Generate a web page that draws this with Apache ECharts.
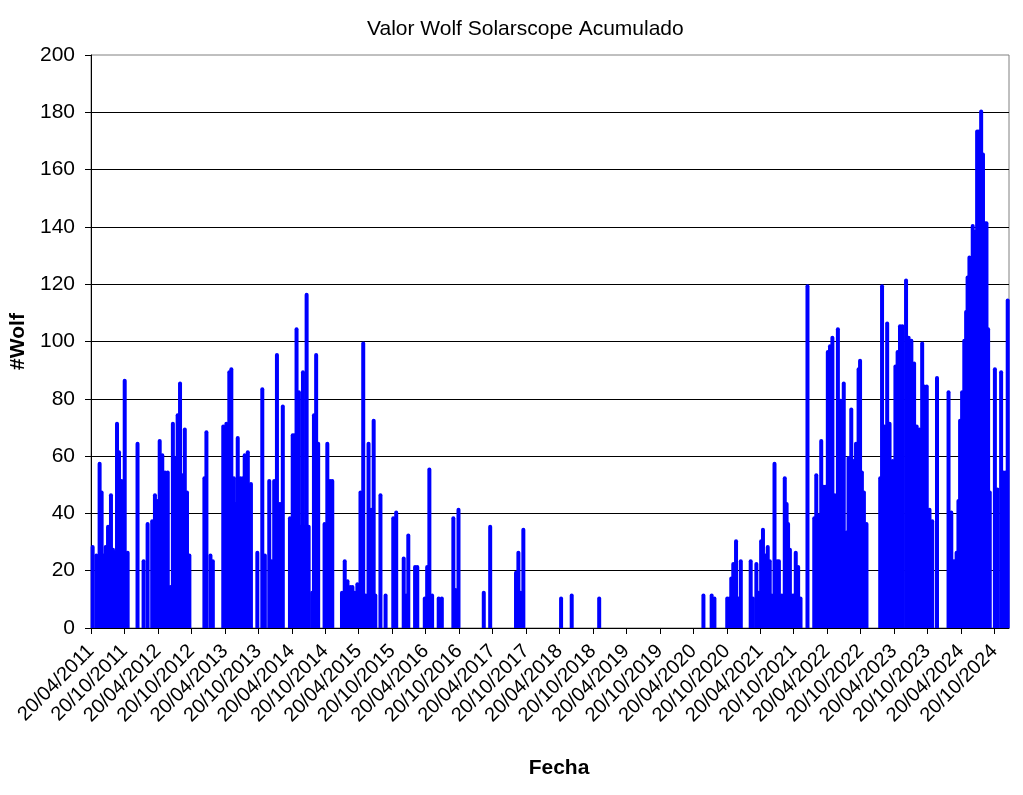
<!DOCTYPE html>
<html>
<head>
<meta charset="utf-8">
<title>Valor Wolf Solarscope Acumulado</title>
<script src="https://cdn.jsdelivr.net/npm/echarts@6.0.0/dist/echarts.min.js"></script>
<style>
  html, body { margin: 0; padding: 0; background: #fff; }
  #chart { width: 1023px; height: 795px; }
</style>
</head>
<body>
<div id="chart"></div>
<script>
const obsDates = [
  '2011-04-29','2011-05-19','2011-06-06','2011-06-17','2011-06-28','2011-07-09','2011-07-22','2011-08-07',
  '2011-08-18','2011-08-29','2011-09-09','2011-09-20','2011-10-04','2011-10-21','2011-11-06',
  '2011-12-30','2012-02-01','2012-02-23',
  '2012-03-19','2012-04-03','2012-04-16','2012-04-29','2012-05-13','2012-05-28','2012-06-12','2012-06-26',
  '2012-07-10','2012-07-23','2012-08-05','2012-08-18','2012-08-31','2012-09-13','2012-09-25','2012-10-08',
  '2012-12-29','2013-01-09','2013-01-31','2013-02-13',
  '2013-04-11','2013-04-28','2013-05-14','2013-05-25','2013-06-08','2013-06-18','2013-06-29','2013-07-13',
  '2013-07-27','2013-08-06','2013-08-23','2013-09-09',
  '2013-10-14','2013-11-10','2013-11-24',
  '2013-12-18','2013-12-31','2014-01-14','2014-01-29','2014-02-13','2014-02-23','2014-03-02',
  '2014-04-10','2014-04-25','2014-05-05','2014-05-16','2014-05-29','2014-06-10','2014-06-20','2014-06-29',
  '2014-07-10','2014-07-21',
  '2014-08-09','2014-08-19','2014-08-31','2014-09-11',
  '2014-10-16','2014-10-31','2014-11-15','2014-11-27',
  '2015-01-19','2015-02-03','2015-02-18','2015-03-05','2015-03-17','2015-03-30','2015-04-13','2015-04-30',
  '2015-05-15','2015-05-29','2015-06-13','2015-06-27','2015-07-11','2015-07-20','2015-08-17','2015-09-14',
  '2015-10-26','2015-11-11',
  '2015-12-22','2016-01-04','2016-01-16',
  '2016-02-22','2016-03-05',
  '2016-04-15','2016-04-28','2016-05-10','2016-05-25',
  '2016-06-30','2016-07-17',
  '2016-09-18','2016-09-30','2016-10-16',
  '2017-03-03','2017-04-07',
  '2017-08-26','2017-09-08','2017-09-21','2017-10-05',
  '2018-04-29','2018-06-26','2018-11-23',
  '2020-06-14','2020-07-29','2020-08-13',
  '2020-10-22','2020-11-03','2020-11-13','2020-11-24','2020-12-09','2020-12-22','2021-01-04',
  '2021-02-27','2021-03-11','2021-03-30','2021-04-10','2021-04-25','2021-05-05','2021-05-20','2021-05-31',
  '2021-06-11','2021-06-22','2021-07-07','2021-07-21','2021-07-31','2021-08-16','2021-09-01','2021-09-11',
  '2021-09-19','2021-09-29','2021-10-10','2021-10-20','2021-10-31','2021-11-13','2021-11-26',
  '2022-01-03',
  '2022-02-09','2022-02-20','2022-03-03','2022-03-19','2022-04-02','2022-04-13','2022-04-24','2022-05-06',
  '2022-05-19','2022-06-01','2022-06-18','2022-07-03','2022-07-20','2022-08-04','2022-08-15','2022-08-30',
  '2022-09-10','2022-09-25','2022-10-09','2022-10-17','2022-10-27','2022-11-07','2022-11-21',
  '2023-02-04','2023-02-14','2023-02-28','2023-03-14','2023-03-27','2023-04-13','2023-04-28','2023-05-10',
  '2023-05-23','2023-06-05','2023-06-25','2023-07-09','2023-07-24','2023-08-08','2023-08-22','2023-09-06',
  '2023-09-21','2023-10-02','2023-10-16','2023-10-31','2023-11-15','2023-12-11',
  '2024-02-12','2024-02-27','2024-03-07','2024-03-17','2024-03-27','2024-04-06','2024-04-15','2024-04-26',
  '2024-05-08','2024-05-18','2024-05-26','2024-06-05','2024-06-14','2024-06-23','2024-07-05','2024-07-17',
  '2024-07-27','2024-08-08','2024-08-18','2024-08-27','2024-09-06','2024-09-15','2024-09-24',
  '2024-10-22','2024-11-05','2024-11-25','2024-12-08','2024-12-19','2024-12-31'
];

const wolfValues = [
  29, 26, 58, 48, 26, 29, 36, 47,
  28, 27, 72, 62, 52, 87, 27,
  65, 24, 37,
  38, 47, 45, 66, 61, 55, 55, 15,
  72, 60, 75, 86, 54, 70, 48, 26,
  53, 69, 26, 24,
  71, 72, 90, 91, 53, 44, 67, 53,
  53, 61, 62, 51,
  27, 84, 26,
  52, 24, 52, 96, 44, 44, 78,
  39, 68, 68, 105, 83, 36, 90, 36,
  117, 36,
  13, 75, 96, 65,
  37, 65, 52, 52,
  13, 24, 17, 15, 15, 13, 16, 48,
  100, 12, 65, 42, 73, 12, 47, 12,
  39, 41,
  25, 12, 33,
  22, 22,
  11, 22, 56, 12,
  11, 11,
  39, 14, 42,
  13, 36,
  20, 27, 13, 35,
  11, 12, 11,
  12, 12, 11,
  11, 11, 18, 23, 31, 11, 24,
  24, 11, 23, 13, 31, 35, 26, 29,
  24, 12, 58, 24, 24, 12, 53, 44,
  37, 28, 12, 12, 27, 22, 11,
  120,
  39, 54, 40, 66, 50, 50, 97, 99,
  102, 47, 105, 80, 86, 34, 60, 77,
  59, 65, 91, 94, 55, 48, 37,
  53, 120, 71, 107, 72, 59, 92, 97,
  106, 106, 122, 102, 101, 93, 71, 70,
  100, 85, 85, 42, 38, 88,
  83, 41, 24, 24, 27, 45, 73, 83,
  101, 111, 123, 130, 123, 141, 139, 174,
  174, 181, 166, 142, 142, 105, 48,
  91, 49, 90, 55, 55, 115
];

const tickLabels = [
  '20/04/2011','20/10/2011','20/04/2012','20/10/2012','20/04/2013','20/10/2013','20/04/2014',
  '20/10/2014','20/04/2015','20/10/2015','20/04/2016','20/10/2016','20/04/2017','20/10/2017',
  '20/04/2018','20/10/2018','20/04/2019','20/10/2019','20/04/2020','20/10/2020','20/04/2021',
  '20/10/2021','20/04/2022','20/10/2022','20/04/2023','20/10/2023','20/04/2024','20/10/2024'
];

const axisStart = '20/04/2011';
const axisEnd = '07/01/2025';

const DAY = 86400000;
function toUTC(str) {
  if (str.indexOf('/') > 0) {
    const p = str.split('/');
    return Date.UTC(+p[2], +p[1] - 1, +p[0]);
  }
  const p = str.split('-');
  return Date.UTC(+p[0], +p[1] - 1, +p[2]);
}
const t0 = toUTC(axisStart);
function dayOf(str) { return Math.round((toUTC(str) - t0) / DAY); }

const tickDays = tickLabels.map(dayOf);
const labelByDay = {};
tickLabels.forEach((l, i) => { labelByDay[tickDays[i]] = l; });

const barData = obsDates.map((d, i) => [dayOf(d), wolfValues[i]]);

const FONT = '"Liberation Sans", Arial, sans-serif';

const chart = echarts.init(document.getElementById('chart'), null, { renderer: 'canvas' });

const option = {
  animation: false,
  backgroundColor: '#ffffff',
  title: {
    text: 'Valor Wolf Solarscope Acumulado',
    left: 362,
    top: 14,
    textStyle: { fontFamily: FONT, fontSize: 21, fontWeight: 'normal', color: '#000' }
  },
  grid: {
    left: 90, right: 14, top: 55, bottom: 167,
    show: true, borderColor: '#808080', borderWidth: 1
  },
  xAxis: {
    type: 'value',
    min: 0,
    max: dayOf(axisEnd),
    name: 'Fecha',
    nameLocation: 'middle',
    nameGap: 130,
    nameTextStyle: { fontFamily: FONT, fontSize: 21, fontWeight: 'bold', color: '#000', padding: [0, 0, 0, 18] },
    axisLine: { show: true, lineStyle: { color: '#000', width: 1 } },
    axisTick: { show: true, length: 6, customValues: tickDays, lineStyle: { color: '#000' } },
    axisLabel: {
      rotate: 45,
      margin: 20,
      customValues: tickDays,
      fontFamily: FONT,
      fontSize: 20,
      color: '#000',
      formatter: v => labelByDay[Math.round(v)] || ''
    },
    splitLine: { show: false }
  },
  yAxis: {
    type: 'value',
    min: 0,
    max: 200,
    interval: 20,
    name: '#Wolf',
    nameLocation: 'middle',
    nameGap: 62,
    nameTextStyle: { fontFamily: FONT, fontSize: 21, fontWeight: 'bold', color: '#000' },
    axisLine: { show: true, lineStyle: { color: '#000', width: 1 } },
    axisTick: { show: true, length: 6, lineStyle: { color: '#000' } },
    axisLabel: { fontFamily: FONT, fontSize: 21, color: '#000', margin: 16 },
    splitLine: { show: true, showMaxLine: false, lineStyle: { color: '#000', width: 1 } }
  },
  series: [{
    type: 'bar',
    data: barData,
    barWidth: 4,
    itemStyle: { color: '#0000FF', borderRadius: [2, 2, 0, 0] },
    clip: true
  }]
};

chart.setOption(option);
</script>
</body>
</html>
